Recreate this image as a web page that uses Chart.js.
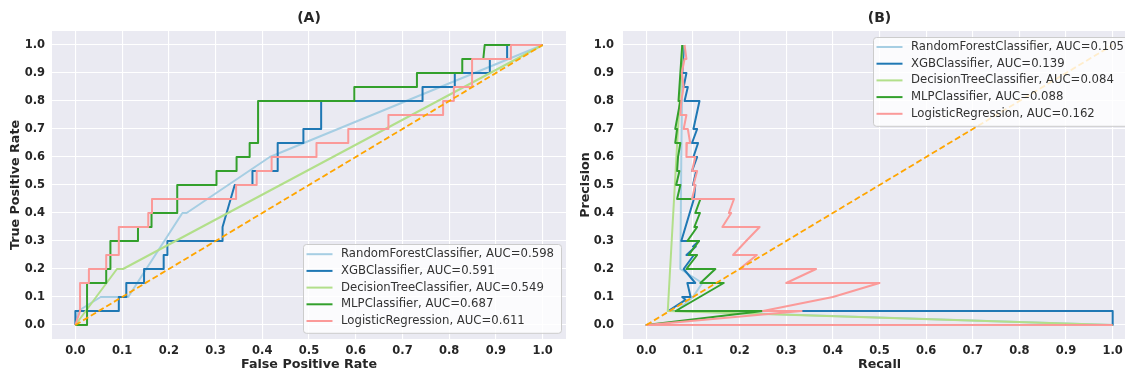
<!DOCTYPE html>
<html>
<head>
<meta charset="utf-8">
<script src="https://cdn.jsdelivr.net/npm/chart.js@4.4.1/dist/chart.umd.min.js"></script>
<style>
  html, body { margin: 0; padding: 0; background: #fff; overflow: hidden; }
  #wrap { position: relative; width: 1125px; height: 375px; overflow: hidden; }
  #rocBox { position: absolute; left: 0; top: 0; width: 575px; height: 375px; }
  #prBox { position: absolute; left: 575px; top: 0; width: 570px; height: 375px; }
</style>
</head>
<body>
<div id="wrap">
  <div id="rocBox"><canvas id="rocChart" width="575" height="375"></canvas></div>
  <div id="prBox"><canvas id="prChart" width="570" height="375"></canvas></div>
</div>
<script>
// ---------------- donnees ----------------
const modelNames = ['RandomForestClassifier', 'XGBClassifier', 'DecisionTreeClassifier', 'MLPClassifier', 'LogisticRegression'];
const rocAuc = ['0.598', '0.591', '0.549', '0.687', '0.611'];
const prAuc = ['0.105', '0.139', '0.084', '0.088', '0.162'];
const tickVals = [0, 0.1, 0.2, 0.3, 0.4, 0.5, 0.6, 0.7, 0.8, 0.9, 1.0];
const tickLabels = ['0.0', '0.1', '0.2', '0.3', '0.4', '0.5', '0.6', '0.7', '0.8', '0.9', '1.0'];
const chanceX = [0, 1];
const chanceY = [0, 1];

// (A) courbes ROC
const rfFpr = [0, 0.006, 0.054, 0.113, 0.229, 0.238, 0.416, 1];
const rfTpr = [0, 0.05, 0.1, 0.1, 0.4, 0.4, 0.6, 1];
const xgbFpr = [0, 0, 0.093, 0.093, 0.109, 0.109, 0.147, 0.147, 0.189, 0.189, 0.197, 0.197, 0.315, 0.315, 0.341, 0.379, 0.379, 0.433, 0.433, 0.488, 0.488, 0.526, 0.526, 0.743, 0.743, 0.812, 0.812, 0.887, 0.887, 0.924, 0.924, 1];
const xgbTpr = [0, 0.05, 0.05, 0.1, 0.1, 0.15, 0.15, 0.2, 0.2, 0.25, 0.25, 0.3, 0.3, 0.35, 0.5, 0.5, 0.55, 0.55, 0.65, 0.65, 0.7, 0.7, 0.8, 0.8, 0.85, 0.85, 0.9, 0.9, 0.95, 0.95, 1, 1];
const dtFpr = [0, 0.089, 0.102, 1];
const dtTpr = [0, 0.2, 0.2, 1];
const mlpFpr = [0, 0.025, 0.025, 0.066, 0.066, 0.075, 0.075, 0.134, 0.134, 0.163, 0.163, 0.218, 0.218, 0.302, 0.302, 0.345, 0.345, 0.373, 0.373, 0.391, 0.391, 0.597, 0.597, 0.731, 0.731, 0.828, 0.828, 0.873, 0.876, 1];
const mlpTpr = [0, 0, 0.15, 0.15, 0.2, 0.2, 0.3, 0.3, 0.35, 0.35, 0.4, 0.4, 0.5, 0.5, 0.55, 0.55, 0.6, 0.6, 0.65, 0.65, 0.8, 0.8, 0.85, 0.85, 0.9, 0.9, 0.95, 0.95, 1, 1];
const lrFpr = [0, 0.01, 0.01, 0.029, 0.029, 0.066, 0.066, 0.093, 0.093, 0.156, 0.156, 0.164, 0.164, 0.344, 0.344, 0.388, 0.388, 0.42, 0.42, 0.516, 0.516, 0.584, 0.584, 0.67, 0.67, 0.787, 0.787, 0.81, 0.81, 0.849, 0.849, 0.932, 0.932, 1];
const lrTpr = [0, 0.05, 0.15, 0.15, 0.2, 0.2, 0.25, 0.25, 0.35, 0.35, 0.4, 0.4, 0.45, 0.45, 0.5, 0.5, 0.55, 0.55, 0.6, 0.6, 0.65, 0.65, 0.7, 0.7, 0.75, 0.75, 0.8, 0.8, 0.85, 0.85, 0.95, 0.95, 1, 1];

// (B) courbes precision / recall (axe x = Recall, axe y = Precision, comme sur la figure)
const rfRecall = [0.078, 0.075, 0.073, 0.12, 0.1, 0.065, 1];
const rfPrecision = [1, 0.6, 0.2, 0.15, 0.1, 0.05, 0];
const xgbRecall = [0.081, 0.077, 0.086, 0.08, 0.089, 0.082, 0.114, 0.101, 0.109, 0.098, 0.111, 0.101, 0.109, 0.098, 0.107, 0.1, 0.105, 0.102, 0.075, 0.113, 0.1, 0.106, 0.086, 0.102, 0.08, 0.105, 0.088, 0.095, 0.077, 0.084, 0.047, 1, 1];
const xgbPrecision = [1, 0.9, 0.9, 0.85, 0.85, 0.8, 0.8, 0.7, 0.7, 0.65, 0.65, 0.6, 0.6, 0.55, 0.55, 0.5, 0.5, 0.45, 0.3, 0.3, 0.28, 0.28, 0.25, 0.25, 0.2, 0.15, 0.15, 0.1, 0.1, 0.09, 0.05, 0.05, 0];
const dtRecall = [0.078, 0.046, 1];
const dtPrecision = [1, 0.05, 0];
const mlpRecall = [0.077, 0.069, 0.073, 0.062, 0.066, 0.062, 0.073, 0.068, 0.066, 0.071, 0.064, 0.073, 0.066, 0.116, 0.105, 0.115, 0.103, 0.109, 0.088, 0.113, 0.091, 0.109, 0.086, 0.148, 0.116, 0.166, 0.063, 0.25, 0, 1];
const mlpPrecision = [1, 0.8, 0.8, 0.7, 0.7, 0.65, 0.65, 0.6, 0.55, 0.55, 0.5, 0.5, 0.45, 0.45, 0.4, 0.4, 0.35, 0.35, 0.3, 0.3, 0.25, 0.25, 0.2, 0.2, 0.15, 0.15, 0.05, 0.05, 0, 0];
const lrRecall = [0.082, 0.086, 0.082, 0.076, 0.08, 0.075, 0.073, 0.086, 0.08, 0.089, 0.094, 0.087, 0.086, 0.105, 0.098, 0.109, 0.101, 0.105, 0.098, 0.188, 0.177, 0.182, 0.163, 0.243, 0.214, 0.186, 0.237, 0.2, 0.364, 0.3, 0.5, 0.4, 0.25, 0.333, 0, 1];
const lrPrecision = [1, 0.95, 0.95, 0.9, 0.85, 0.8, 0.75, 0.75, 0.7, 0.7, 0.65, 0.65, 0.6, 0.6, 0.55, 0.55, 0.5, 0.5, 0.45, 0.45, 0.4, 0.4, 0.35, 0.35, 0.3, 0.25, 0.25, 0.2, 0.2, 0.15, 0.15, 0.1, 0.05, 0.05, 0, 0];

const modelColors = ['#a6cee3', '#1f78b4', '#b2df8a', '#33a02c', '#fb9a99'];
const textColor = '#262626';
//------------------------------------------------------------//

const pts = (xs, ys) => xs.map((x, i) => ({ x: x, y: ys[i] }));

// fond gris, titre (A)/(B) et legende encadree
const panelDecor = {
    id: 'panelDecor',
    beforeDraw(chart, args, o) {
        const { ctx, chartArea: a } = chart;
        ctx.save();
        ctx.fillStyle = '#eaeaf2';
        ctx.fillRect(a.left, a.top, a.right - a.left, a.bottom - a.top);
        ctx.restore();
    },
    afterDraw(chart, args, o) {
        const { ctx, chartArea: a } = chart;
        ctx.save();
        ctx.font = 'bold 14px "DejaVu Sans"';
        ctx.fillStyle = textColor;
        ctx.textAlign = 'center';
        ctx.textBaseline = 'middle';
        ctx.fillText(o.title, (a.left + a.right) / 2, 18);

        ctx.font = '11.7px "DejaVu Sans"';
        const sets = chart.data.datasets.filter(d => d.label);
        const w = Math.max(...sets.map(d => ctx.measureText(d.label).width));
        const rowH = 16.7;
        const boxW = 38 + w + 7;
        const boxH = 10 + rowH * (sets.length - 1) + 12;
        const bx = a.right - 5 - boxW;
        const by = o.legendAt === 'top' ? a.top + 6 : a.bottom - 6 - boxH;
        ctx.fillStyle = 'rgba(255,255,255,0.8)';
        ctx.strokeStyle = '#cccccc';
        ctx.lineWidth = 1;
        ctx.beginPath();
        ctx.roundRect(Math.round(bx) + 0.5, Math.round(by) + 0.5, boxW, boxH, 3);
        ctx.fill();
        ctx.stroke();
        sets.forEach((d, i) => {
            const y = by + 10 + i * rowH;
            ctx.strokeStyle = d.borderColor;
            ctx.lineWidth = 2;
            ctx.beginPath();
            ctx.moveTo(bx + 3.5, y);
            ctx.lineTo(bx + 29.5, y);
            ctx.stroke();
            ctx.fillStyle = '#333333';
            ctx.textAlign = 'left';
            ctx.fillText(d.label, bx + 38, y);
        });
        ctx.restore();
    }
};

function makeAxis(title, axisSize, tickPad, titlePad, vertical) {
    return {
        type: 'linear',
        min: -0.05,
        max: 1.05,
        afterBuildTicks: s => { s.ticks = tickVals.map(v => ({ value: v })); },
        afterFit: s => { if (vertical) s.width = axisSize; else s.height = axisSize; },
        grid: { color: '#ffffff', lineWidth: 1.1, drawTicks: false },
        border: { display: false },
        ticks: {
            autoSkip: false,
            maxRotation: 0,
            padding: tickPad,
            color: textColor,
            font: { family: 'DejaVu Sans', size: 11.5, weight: 'bold' },
            callback: (v, i) => tickLabels[i]
        },
        title: {
            display: true,
            text: title,
            color: textColor,
            font: { family: 'DejaVu Sans', size: 12.7, weight: 'bold' },
            padding: titlePad
        }
    };
}

function makeChart(id, panel, series, aucs, xTitle, yTitle, yAxisWidth, yTickPad, yTitlePad, legendAt) {
    const datasets = series.map((s, i) => ({
        label: modelNames[i] + ', AUC=' + aucs[i],
        data: pts(s[0], s[1]),
        borderColor: modelColors[i],
        borderWidth: 2,
        borderJoinStyle: 'round',
        pointRadius: 0,
        fill: false,
        tension: 0,
        order: 5 - i
    }));
    datasets.push({
        label: '',
        data: pts(chanceX, chanceY),
        borderColor: '#ffa500',
        borderWidth: 1.8,
        borderDash: [6, 3],
        pointRadius: 0,
        fill: false,
        tension: 0,
        order: 0
    });
    return new Chart(document.getElementById(id).getContext('2d'), {
        type: 'line',
        data: { datasets: datasets },
        options: {
            responsive: false,
            animation: false,
            layout: { padding: { left: 0, right: 9, top: 31, bottom: 0 } },
            scales: {
                x: makeAxis(xTitle, 36, 5, { top: 0, bottom: 2.5 }, false),
                y: makeAxis(yTitle, yAxisWidth, yTickPad, { top: yTitlePad, bottom: 0 }, true)
            },
            plugins: {
                legend: { display: false },
                tooltip: { enabled: false },
                panelDecor: { title: panel, legendAt: legendAt }
            }
        },
        plugins: [panelDecor]
    });
}

makeChart('rocChart', '(A)',
    [[rfFpr, rfTpr], [xgbFpr, xgbTpr], [dtFpr, dtTpr], [mlpFpr, mlpTpr], [lrFpr, lrTpr]],
    rocAuc, 'False Positive Rate', 'True Positive Rate', 52, 7, 8.5, 'bottom');

makeChart('prChart', '(B)',
    [[rfRecall, rfPrecision], [xgbRecall, xgbPrecision], [dtRecall, dtPrecision], [mlpRecall, mlpPrecision], [lrRecall, lrPrecision]],
    prAuc, 'Recall', 'Precision', 48, 9, 3.5, 'top');
</script>
</body>
</html>
